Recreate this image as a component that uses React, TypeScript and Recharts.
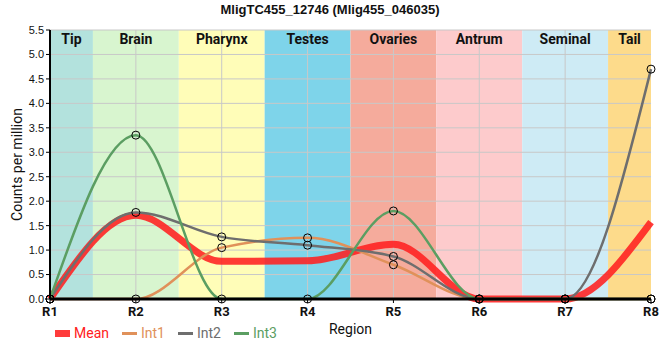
import {
  LineChart,
  Line,
  XAxis,
  YAxis,
  ReferenceArea,
  ReferenceLine,
  Legend,
} from 'recharts'

const regions = ['R1', 'R2', 'R3', 'R4', 'R5', 'R6', 'R7', 'R8']
const positions = [1, 2, 3, 4, 5, 6, 7, 8]
const meanValues = [0, 1.71, 0.77, 0.78, 1.12, 0, 0, 1.57]
const int1Values = [0, 0, 1.05, 1.25, 0.7, 0, 0, 0]
const int2Values = [0, 1.77, 1.27, 1.1, 0.87, 0, 0, 4.7]
const int3Values = [0, 3.35, 0, 0, 1.8, 0, 0, 0]
const yTicks = [0, 0.5, 1, 1.5, 2, 2.5, 3, 3.5, 4, 4.5, 5, 5.5]

const tissues = ['Tip', 'Brain', 'Pharynx', 'Testes', 'Ovaries', 'Antrum', 'Seminal', 'Tail']
const tissueColors = [
  '#b3e2dd',
  '#d8f5cf',
  '#fffdb8',
  '#7ed4ea',
  '#f5ab9c',
  '#fdcbcc',
  '#ceebf5',
  '#fddb8b',
]

const series = [
  { key: 'mean', name: 'Mean', color: '#ff2020', width: 7, opacity: 0.88, dots: false },
  { key: 'int1', name: 'Int1', color: '#e0915a', width: 2.5, opacity: 1, dots: true },
  { key: 'int2', name: 'Int2', color: '#6e6e6e', width: 2.5, opacity: 1, dots: true },
  { key: 'int3', name: 'Int3', color: '#5b9e62', width: 2.5, opacity: 1, dots: true },
]

const data = positions.map((x, i) => ({
  x,
  mean: meanValues[i],
  int1: int1Values[i],
  int2: int2Values[i],
  int3: int3Values[i],
}))

const font = 'Roboto, "Liberation Sans", Arial, sans-serif'
const gridColor = '#c8c8c8'

function LegendRow() {
  return (
    <div style={{ display: 'flex', alignItems: 'center', paddingLeft: 55, paddingTop: 3, height: 20, fontFamily: font, fontSize: 14 }}>
      {series.map((s) => (
        <div key={s.key} style={{ display: 'flex', alignItems: 'center', marginRight: 13 }}>
          <div
            style={{
              width: 15,
              height: s.key === 'mean' ? 7 : 3,
              background: s.color,
              opacity: s.opacity,
              marginRight: 4,
            }}
          />
          <span style={{ color: s.color }}>{s.name}</span>
        </div>
      ))}
    </div>
  )
}

export default function App() {
  return (
    <div style={{ position: 'absolute', left: 0, top: 0, width: 660, height: 360, background: '#fff' }}>
      <div
        style={{
          position: 'absolute',
          top: 0,
          left: 0,
          width: 660,
          textAlign: 'center',
          fontFamily: '"Liberation Sans", Arial, sans-serif',
          fontWeight: 'bold',
          fontSize: 13,
          lineHeight: '20px',
          color: '#111',
        }}
      >
        MligTC455_12746 (Mlig455_046035)
      </div>
      <LineChart width={660} height={360} data={data} margin={{ top: 30, right: 9, left: 0, bottom: 20 }}>
        {tissues.map((t, i) => (
          <ReferenceArea
            key={t}
            x1={Math.max(1, i + 0.5)}
            x2={Math.min(8, i + 1.5)}
            fill={tissueColors[i]}
            fillOpacity={1}
            stroke="none"
            label={{
              value: t,
              position: 'insideTop',
              offset: 4,
              fill: '#111',
              fontWeight: 'bold',
              fontSize: 14,
              fontFamily: font,
            }}
          />
        ))}
        {yTicks.slice(1).map((v) => (
          <ReferenceLine key={'y' + v} y={v} stroke={gridColor} strokeWidth={1} />
        ))}
        {positions.slice(1, -1).map((v) => (
          <ReferenceLine key={'x' + v} x={v} stroke={gridColor} strokeWidth={1} />
        ))}
        <XAxis
          dataKey="x"
          type="number"
          domain={[1, 8]}
          ticks={positions}
          tickFormatter={(v) => regions[v - 1]}
          height={21}
          tickSize={4}
          axisLine={{ stroke: '#000', strokeWidth: 3 }}
          tickLine={{ stroke: '#000' }}
          tick={{ fill: '#111', fontSize: 13, fontWeight: 'bold', fontFamily: font, dy: 2 }}
          label={{ value: 'Region', position: 'bottom', offset: 4, fill: '#111', fontSize: 14, fontFamily: font }}
        />
        <XAxis xAxisId="top" orientation="top" type="number" domain={[1, 8]} height={0} tick={false} tickLine={false} axisLine={{ stroke: '#000' }} />
        <YAxis
          domain={[0, 5.5]}
          ticks={yTicks}
          width={50}
          tickSize={4}
          interval={0}
          tickFormatter={(v) => v.toFixed(1)}
          axisLine={{ stroke: '#000', strokeWidth: 2 }}
          tickLine={{ stroke: '#000' }}
          tick={{ fill: '#111', fontSize: 11, fontFamily: '"Liberation Sans", Arial, sans-serif' }}
          label={{ value: 'Counts per million', angle: -90, position: 'center', dx: -8, fill: '#111', fontSize: 14, fontFamily: font }}
        />
        <YAxis yAxisId="right" orientation="right" domain={[0, 5.5]} width={0} tick={false} tickLine={false} axisLine={{ stroke: '#000' }} />
        {series.map((s) => (
          <Line
            key={s.key}
            type="monotone"
            dataKey={s.key}
            name={s.name}
            stroke={s.color}
            strokeWidth={s.width}
            strokeOpacity={s.opacity}
            dot={s.dots ? { r: 4, fill: 'none', stroke: '#000', strokeWidth: 1 } : false}
            activeDot={false}
            isAnimationActive={false}
          />
        ))}
        <Legend verticalAlign="bottom" align="left" height={20} content={<LegendRow />} />
      </LineChart>
    </div>
  )
}
